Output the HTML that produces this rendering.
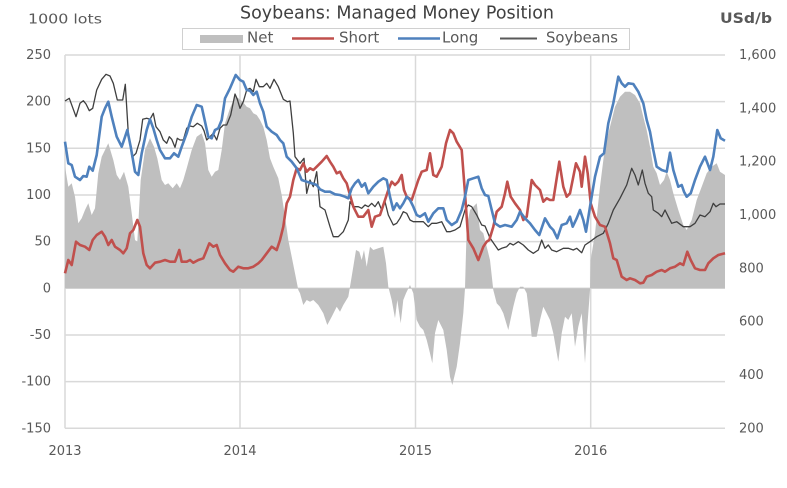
<!DOCTYPE html>
<html><head><meta charset="utf-8"><style>
html,body{margin:0;padding:0;background:#fff;}
svg{display:block;font-family:"DejaVu Sans","Liberation Sans",sans-serif;}
</style></head><body>
<svg width="787" height="488" viewBox="0 0 787 488" xmlns="http://www.w3.org/2000/svg">
<rect width="787" height="488" fill="#fff"/>
<!-- gridlines -->
<g stroke="#d9d9d9" stroke-width="1.5" fill="none">
<line x1="65" y1="55" x2="725" y2="55"/>
<line x1="65" y1="101.6" x2="725" y2="101.6"/>
<line x1="65" y1="148.3" x2="725" y2="148.3"/>
<line x1="65" y1="195" x2="725" y2="195"/>
<line x1="65" y1="241.6" x2="725" y2="241.6"/>
<line x1="65" y1="288.3" x2="725" y2="288.3"/>
<line x1="65" y1="335" x2="725" y2="335"/>
<line x1="65" y1="381.6" x2="725" y2="381.6"/>
<line x1="65" y1="428.3" x2="725" y2="428.3"/>
<line x1="65" y1="55" x2="65" y2="428.3"/>
<line x1="240" y1="55" x2="240" y2="428.3"/>
<line x1="415.5" y1="55" x2="415.5" y2="428.3"/>
<line x1="590.7" y1="55" x2="590.7" y2="428.3"/>
</g>
<!-- Net area -->
<polygon fill="#bfbfbf" points="65,288.3 65,166.7 68.3,186.7 71.7,183.3 75,196.7 78.3,223.3 81.7,218.3 85,210 88.3,203.3 91.7,215 95,208.3 98.3,173.3 101.7,156.7 108.3,143.3 113.3,160 116.7,175 120,180 124,171.7 128.3,186.7 131.7,213.3 135,240 137.3,241.7 140.7,180 145,150 150,138.3 154,146.7 157.3,158.3 161.7,180 165,185 168.3,183.3 172.7,188.3 176.7,183.3 180,188.3 183.3,180 186.7,168.3 191.7,150 196.7,136.7 201.7,133.3 205,143.3 208.3,170 211.7,176.7 215,171.7 218.3,170 221.7,150 225,123.3 230,108.3 235,96.7 238.3,98.3 242.7,101.7 246.7,106.7 250,108.3 253.3,113.3 256.7,115 260,120 263.3,126.7 266.7,140 270,158.3 273.3,166.7 278.3,178.3 281.7,195 285,216.7 288.3,240 291.7,256.7 295,273.3 298.3,290 300,293.3 303.3,305 306.7,300 310,301.7 313.3,300 318.3,305 323.3,313.3 327.3,325 331.7,316.7 336.7,306.7 340,311.7 343.3,305 348.3,296.7 350,286.7 353.3,266.7 356,250 359.3,251.7 361.7,260 364,250 366.7,266.7 370,246.7 373.3,250 378.3,248.3 383.3,246.7 386,263.3 388.3,286.7 391.7,300 395,318.3 397.3,300 400.7,323.3 403.3,300 406,293.3 410,285 413.3,293.3 416.7,320 420,326.7 423.3,330 426.7,340 430,353.3 432.3,363.3 435,333.3 438.3,320 443.3,330 446.7,350 450,376.7 452.3,385 456.7,366.7 460,343.3 463.3,313.3 465,288.3 466.7,226.7 470,210 473.3,206.7 476.7,203.3 480,230 483.3,233.3 486.7,246.7 490,260 493.3,290 496.7,303.3 500,306.7 503.3,313.3 508.3,330 513.3,306.7 516.7,293.3 520,286.7 523.3,286.7 526.7,293.3 530,320 531.7,336.7 536.7,336.7 540,320 543.3,306.7 546.7,313.3 550,320 553.3,333.3 558.3,361.7 561.7,333.3 565,316.7 568.3,320 571.7,313.3 575,346.7 578.3,326.7 581.7,313.3 585,363.3 587.3,326.7 590,290 590.7,260 595,233.3 600,186.7 605,146.7 610,126.7 615,106.7 620,96.7 625,91.7 630,91.7 635,95 640,103.3 643.3,116.7 646.7,130 650,146.7 653.3,166.7 656.7,173.3 660,185 664,180 666.7,171.7 670,180 673.3,193.3 678.3,210 683.3,225 686.7,230 691.7,220 696.7,200 701.7,186.7 706.7,173.3 711.7,166.7 716.7,163.3 720,171.7 725,175 725,288.3"/>
<!-- Soybeans -->
<polyline fill="none" stroke="#3f3f3f" stroke-width="1.3" stroke-linejoin="round" points="65,101 69.3,98.3 76,116.7 80,103.3 83.3,100.7 86,104 89.3,110.7 92.7,108.3 96.7,90 101.7,79.3 106,74.3 110,76 113.3,83.3 117.3,100 122.7,100 125.3,84.3 128.3,133.3 132,157.3 136,153.3 140,140 142.7,119.3 146.7,118.3 150,119.3 153.3,113.3 156,126.7 160,131.7 163.3,140 166.7,143.3 169.3,136.7 171.7,139.3 175,147.3 177.3,138.3 180,140 183.3,140 186.7,128.3 190,126 193.3,126.7 197.3,123.3 201.7,126 204,130.7 206.7,140 210,136.7 213.3,133.3 216.7,140 220,128.3 223.3,125 226.7,125 230.7,115 235,94 237.3,99.3 240,108.3 243.3,101.7 246.7,90 250,88.3 253.3,91.7 256,79.3 259.3,86.7 263.3,86.7 266.7,83.3 270,88.3 274,79.3 278.3,86.7 283.3,99.3 287.3,101.7 290,101 293.3,133 295,156.7 300,163.3 304,158.3 306.7,193.3 310,180 313.3,186.7 316.7,171.7 320,206.7 325,210 330,226.7 333.3,236.7 338.3,236.7 343.3,231.7 348.3,220 350,201.7 353.3,206.7 358.3,206.7 361.7,208.3 365,205 368.3,206.7 371.7,203.3 375,206.7 378.3,201.7 381.7,210 385,201.7 388.3,215 393.3,225 396.7,223.3 400,218.3 403.3,211.7 406.7,213.3 410,220 413.3,221.7 418.3,221.7 423.3,221.7 428.3,226.7 431.7,223.3 436.7,223.3 441.7,221.7 446.7,231.7 450,231.7 455,230 460,226.7 465,210 468.3,205 471.7,206.7 476.7,215 481.7,225 485,226 490,238 498.3,250 501.7,248.3 506.7,246.7 510,243.3 513.3,245 518.3,241.7 523.3,245 528.3,250 533.3,253.3 538.3,250 541.7,240 545,248.3 548.3,245 551.7,250 556.7,251.7 563.3,248.3 568.3,248.3 573.3,250 576.7,248.3 581.7,252.7 585,245 590,241.7 596.7,236.7 603.3,233.3 608.3,223.3 613.3,210 620,198.3 626.7,185 631.7,168.3 635,175 638.3,185 642.3,170 645,183.3 648.3,193.3 651.7,196.7 653.3,210 658.3,213.3 661.7,216.7 665,210 668.3,216.7 671.7,223.3 676.7,221.7 683.3,226.7 690,226.7 695,223.3 700,215 705,216.7 710,211.7 713.3,203.3 716,206.7 720,204 725,204"/>
<!-- Short -->
<polyline fill="none" stroke="#c0504d" stroke-width="2.6" stroke-linejoin="round" points="65,273.3 68.3,260 71.7,265 76,241.7 80,245 85,246.7 89.3,250 92.7,240 96.7,235 101.7,231.7 105,236.7 108.3,245 111.7,240 115,246.7 120,250 123.3,253.3 126.7,248.3 130,233.3 133.3,230 137.3,220 140,226.7 143.3,253.3 146.7,265 150,268.3 155,262.7 160,261.7 165,260 170,261.7 175,261.7 179.3,250 181.7,261.7 186.7,261.7 190,260 193.3,262.7 198.3,260 203.3,258.3 206.7,250 209.3,243.3 213.3,246.7 216.7,245 220,255 225,263.3 230,270 233.3,271.7 238.3,266.7 243.3,268.3 248.3,268.3 253.3,266.7 258.3,263.3 261.7,260 266.7,253.3 271.7,246.7 276.7,250 280,240 283.3,226.7 286.7,203.3 290,196.7 293.3,180 296.7,168.3 300,170 303.3,163.3 306.7,171.7 310,168.3 313.3,170 316.7,166.7 321.7,161.7 326.7,156 330,161.7 333.3,166.7 336.7,173.3 340,171.7 343.3,178.3 346.7,183.3 350,195 353.3,206.7 358.3,216.7 363.3,216.7 368.3,210 371.7,226.7 375,216.7 380,215 385,200 388.3,190 391.7,181.7 395,185 398.3,181.7 401.7,175 404,190 406.7,196.7 411.7,200 415,190 418.3,180 421.7,171.7 426.7,170 430,153.3 433.3,175 436.7,176.7 441.7,166.7 446,143.3 450,130 453.3,133.3 456.7,141.7 461.7,150 465,193.3 468.3,240 473.3,248.3 478.3,260 483.3,246.7 486.7,241.7 489.3,240 493.3,226.7 496.7,211.7 501.7,206.7 505,193.3 507.3,181.7 510.7,196.7 515,203.3 520,210 523.3,220 526.7,216.7 531.7,180 535,185 540,190 543.3,201.7 546.7,198.3 550,200 553.3,200 559.3,161.7 563.3,186.7 566.7,196.7 570,193.3 576,163.3 580,171.7 581.7,186.7 585,156.7 587.7,173.3 590.7,203.3 595,216.7 600,225 605,226.7 610,243.3 613.3,258.3 616.7,260 621.7,276.7 626.7,280 630,278.3 635,280 640,283.3 643.3,282.7 646.7,276.7 651.7,275 656.7,271.7 661.7,270 665,271.7 670,268.3 675,266.7 680,263.3 683.3,265 687.3,251.7 690.7,260 695,268.3 700,270 705,270 708.3,263.3 713.3,258.3 718.3,255 725,253.3"/>
<!-- Long -->
<polyline fill="none" stroke="#4f81bd" stroke-width="2.6" stroke-linejoin="round" points="65,141.7 68.3,163.3 71.7,165 75,176.7 80,180 83.3,176 86.7,176.7 89.3,166.7 92.7,170.7 96.7,155 101.7,116.7 105,108.3 108.3,101.7 111.7,116.7 116.7,136.7 121.7,146.7 124,140 127.3,130 130.7,146.7 135,171.7 138.3,175 141.7,153.3 146.7,130 150,119.3 153.3,128.3 156.7,140 160,150 165,158.3 170,158.3 174,153.3 178.3,156.7 181.7,146.7 186.7,133.3 191.7,116.7 196.7,105 201.7,106.7 205,121.7 208.3,136.7 211.7,138.3 215,130 218.3,128.3 221.7,120 225,98.3 230,88.3 235.7,75 240,80 243.3,81.7 246.7,90 250,90.7 253.3,95 256.7,91.7 260,103.3 263.3,111.7 266.7,126.7 271.7,131.7 276.7,135 280,140 283.3,143.3 286.7,156.7 291.7,161.7 296.7,168.3 301.7,180 306.7,181.7 311.7,183.3 316.7,185 320,189.3 325,191.7 330,191.7 335,194.3 340,195 345,196.7 348.3,198.3 351.7,188.3 355,183.3 358.3,180 361.7,186.7 365,183.3 368.3,193.3 373.3,186.7 378.3,181.7 383.3,178.3 386.7,180 390,196.7 393.3,210 396.7,203.3 400,208.3 403.3,203.3 406.7,196.7 410,200 413.3,206.7 416.7,215 420,216.7 425,213.3 428.3,221.7 433.3,213.3 438.3,208.3 443.3,208.3 446.7,220 451.7,225 456.7,221.7 461.7,210 465,196.7 468.3,180 473.3,178.3 478.3,176.7 481.7,188.3 485,195 488.3,196 495,223.3 500,226.7 505,225 511.7,226.7 516.7,220 520,211.7 525,218.3 530,223.3 535,230 539.3,235 545,218.3 550,226.7 553.3,230 557.3,238.3 561.7,225 566.7,223.3 570,216.7 572.7,226.7 576.7,218.3 580,210 583.3,220 586,231.7 590,206.7 595,176.7 600,156.7 604,153.3 608.3,123.3 613.3,103.3 618.3,76.7 621.7,83.3 625,86.7 628.3,83.3 633.3,84 638.3,91.7 643.3,103.3 646.7,120 650,131.7 653.3,150 656.7,166.7 661.7,170 666.7,171.7 670,152.7 673.3,170 678.3,186.7 681.7,185 684,191.7 686.7,196.7 690.7,193.3 695,180 700,166.7 705,156.7 710,170 713.3,156.7 717.3,130 720.7,138.3 725,140.7"/>
<!-- Title -->
<text x="240" y="18.5" font-size="18" fill="#404040" textLength="314" lengthAdjust="spacingAndGlyphs">Soybeans: Managed Money Position</text>
<text x="28" y="23.3" font-size="13.5" fill="#595959" textLength="74" lengthAdjust="spacingAndGlyphs">1000 lots</text>
<text x="720" y="23" font-size="14" font-weight="bold" fill="#595959" textLength="52" lengthAdjust="spacingAndGlyphs">USd/b</text>
<!-- Legend -->
<rect x="182.5" y="28.5" width="447" height="21" fill="#fff" stroke="#d0d0d0" stroke-width="1"/>
<rect x="200" y="35" width="43" height="8" fill="#bfbfbf"/>
<text x="247" y="42.7" font-size="15" fill="#595959">Net</text>
<line x1="292" y1="38.5" x2="334" y2="38.5" stroke="#c0504d" stroke-width="2.6"/>
<text x="339" y="42.7" font-size="15" fill="#595959">Short</text>
<line x1="398" y1="38.5" x2="440" y2="38.5" stroke="#4f81bd" stroke-width="2.6"/>
<text x="442" y="42.7" font-size="15" fill="#595959">Long</text>
<line x1="500" y1="38.5" x2="537" y2="38.5" stroke="#595959" stroke-width="2"/>
<text x="546" y="42.7" font-size="15" fill="#595959" textLength="72" lengthAdjust="spacingAndGlyphs">Soybeans</text>
<!-- Left axis labels -->
<g font-size="13" fill="#595959" text-anchor="end">
<text x="51" y="59">250</text>
<text x="51" y="105.6">200</text>
<text x="51" y="152.3">150</text>
<text x="51" y="199">100</text>
<text x="51" y="245.6">50</text>
<text x="51" y="292.3">0</text>
<text x="51" y="339">-50</text>
<text x="51" y="385.6">-100</text>
<text x="51" y="432.3">-150</text>
</g>
<!-- Right axis labels -->
<g font-size="13" fill="#595959">
<text x="739" y="59">1,600</text>
<text x="739" y="112.3">1,400</text>
<text x="739" y="165.6">1,200</text>
<text x="739" y="219">1,000</text>
<text x="739" y="272.3">800</text>
<text x="739" y="325.6">600</text>
<text x="739" y="379">400</text>
<text x="739" y="432.3">200</text>
</g>
<!-- X axis labels -->
<g font-size="13" fill="#595959" text-anchor="middle">
<text x="65" y="455">2013</text>
<text x="240" y="455">2014</text>
<text x="415.5" y="455">2015</text>
<text x="590.7" y="455">2016</text>
</g>
</svg>
</body></html>
